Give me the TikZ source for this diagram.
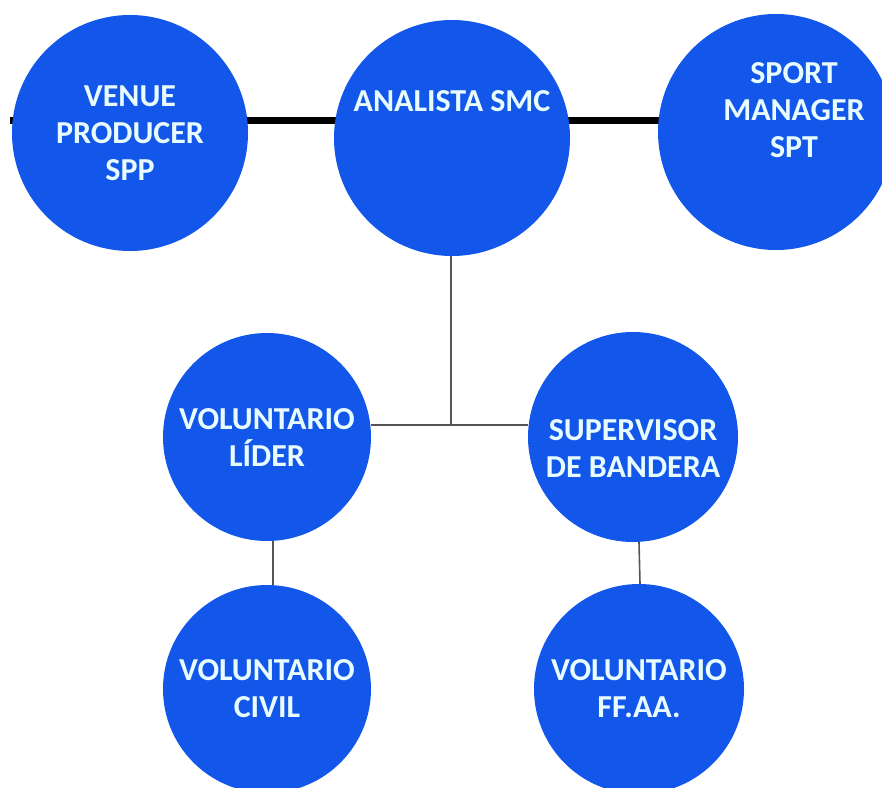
\documentclass[tikz,border=0pt]{standalone}
\usepackage{fontspec}
\setmainfont{Carlito}
\usepackage{tikz}
\usetikzlibrary{calc,positioning}
\definecolor{smcblue}{RGB}{18,87,233}
\definecolor{smctext}{RGB}{232,252,255}
\definecolor{linkgray}{RGB}{85,85,85}

\begin{document}
\begin{tikzpicture}[x=1pt, y=-1pt,
    role/.style={circle, fill=smcblue, inner sep=0pt, minimum size=#1,
      text=smctext, align=center,
      font=\fontsize{32}{37}\selectfont\bfseries},
    role/.default=236pt,
    boldlink/.style={line width=7pt, black},
    thinlink/.style={line width=1.6pt, linkgray}]
            % Frame of the picture
            \clip (0, 0) rectangle (882, 787);
            % Define points
            \coordinate (L) at (10, 120);
            \coordinate (J) at (451, 425);
            % Draw the top row links (behind the circles)
            \draw[boldlink] (L) -- (778, 120);
            % Top row
            \node[role] (venue) at (130, 133) {VENUE\\PRODUCER\\SPP};
            \node[role] (analista) at (452, 138) {ANALISTA SMC\\\mbox{}\\\mbox{}};
            \node[role] (sport) at (776, 132)
              {\hspace{36pt}\begin{tabular}{@{}c@{}}SPORT\\MANAGER\\SPT\\\mbox{}\end{tabular}};
            % Middle row
            \node[role=208pt] (lider) at (267, 437) {VOLUNTARIO\\LÍDER};
            \node[role=210pt] (supervisor) at (633, 437) {\rule{0pt}{44pt}SUPERVISOR\\DE BANDERA};
            % Bottom row
            \node[role=208pt] (civil) at (267, 689) {VOLUNTARIO\\CIVIL};
            \node[role=210pt] (ffaa) at (639, 689) {VOLUNTARIO\\FF.AA.};
            % Draw the tree links
            \draw[thinlink] (analista.south -| J) -- (J);
            \draw[thinlink] (lider.east |- J) -- (supervisor.west |- J);
            \draw[thinlink] ($(lider.south)+(6,0)$) -- ($(civil.north)+(6,0)$);
            \draw[thinlink] ($(supervisor.south)+(6,0)$) -- ($(ffaa.north)+(1,0)$);
          \end{tikzpicture}
\end{document}
